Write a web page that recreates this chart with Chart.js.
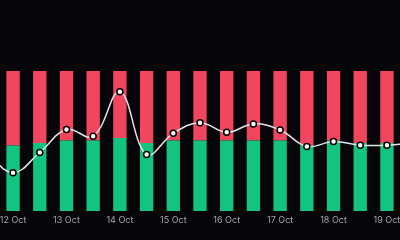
<!DOCTYPE html>
<html>
<head>
<meta charset="utf-8">
<script src="https://cdn.jsdelivr.net/npm/chart.js@4/dist/chart.umd.min.js"></script>
<style>
    html, body { margin: 0; padding: 0; background: #06060a; overflow: hidden; }
    body { width: 400px; height: 240px; position: relative; }
    /* chart is a bit wider than the window, first and last bar fall outside */
    #wrap { position: absolute; left: -27.5px; top: 0; width: 454px; height: 240px; }
</style>
</head>
<body>
<div id="wrap"><canvas id="chartRatio"></canvas></div>
<script>
// ---- data (12h periods) ----
const periods = [
    '11 Oct PM', '12 Oct', '12 Oct PM', '13 Oct', '13 Oct PM', '14 Oct', '14 Oct PM', '15 Oct',
    '15 Oct PM', '16 Oct', '16 Oct PM', '17 Oct', '17 Oct PM', '18 Oct', '18 Oct PM', '19 Oct', '19 Oct PM'
];
const longPct  = [49.0, 46.8, 48.5, 50.4, 50.4, 52.2, 48.5, 50.4, 50.4, 50.4, 50.4, 50.4, 46.8, 50.4, 48.5, 48.5, 49.0];
const shortPct = longPct.map(v => +(100 - v).toFixed(1));
const ratioIdx = [41.8, 27.4, 41.8, 58.2, 53.4, 85.1, 40.4, 55.5, 63.1, 56.2, 62.2, 57.9, 46.1, 49.6, 47.0, 47.0, 48.9];

const GREEN = '#12c47f';
const RED = '#f2465e';

document.addEventListener('DOMContentLoaded', () => {
    Chart.defaults.font.family = "'Inter', sans-serif";
    Chart.defaults.color = '#a2a2ab';

    new Chart(document.getElementById('chartRatio'), {
        type: 'bar',
        data: {
            labels: periods,
            datasets: [
                {
                    type: 'line',
                    label: 'Ratio',
                    data: ratioIdx,
                    yAxisID: 'y2',
                    borderColor: '#e4e4e8',
                    borderWidth: 1.5,
                    tension: 0.4,
                    pointRadius: 3,
                    pointBorderWidth: 1.5,
                    pointBackgroundColor: '#ffffff',
                    pointBorderColor: '#000000',
                    order: 0
                },
                { label: 'Long', data: longPct, backgroundColor: GREEN, order: 1 },
                { label: 'Short', data: shortPct, backgroundColor: RED, order: 1 }
            ]
        },
        options: {
            responsive: true,
            maintainAspectRatio: false,
            animation: false,
            layout: { autoPadding: false, padding: { top: 71, bottom: 13, left: 0, right: 0 } },
            datasets: { bar: { barPercentage: 0.5, categoryPercentage: 1 } },
            plugins: { legend: { display: false }, tooltip: { enabled: false } },
            scales: {
                x: {
                    stacked: true,
                    grid: { display: false, drawTicks: false },
                    border: { display: false },
                    ticks: {
                        autoSkip: false,
                        maxRotation: 0,
                        padding: 4,
                        font: { size: 9 },
                        callback: function (v) {
                            const l = this.getLabelForValue(v);
                            return l.endsWith('PM') ? '' : l;
                        }
                    },
                    // keep the plot edge to edge, no room for labels
                    afterFit: s => { s.height = 16; s.paddingLeft = 0; s.paddingRight = 0; }
                },
                y: { stacked: true, display: false, min: 0, max: 100 },
                y2: { display: false, min: 0, max: 100 }
            }
        }
    });
});
</script>
</body>
</html>
